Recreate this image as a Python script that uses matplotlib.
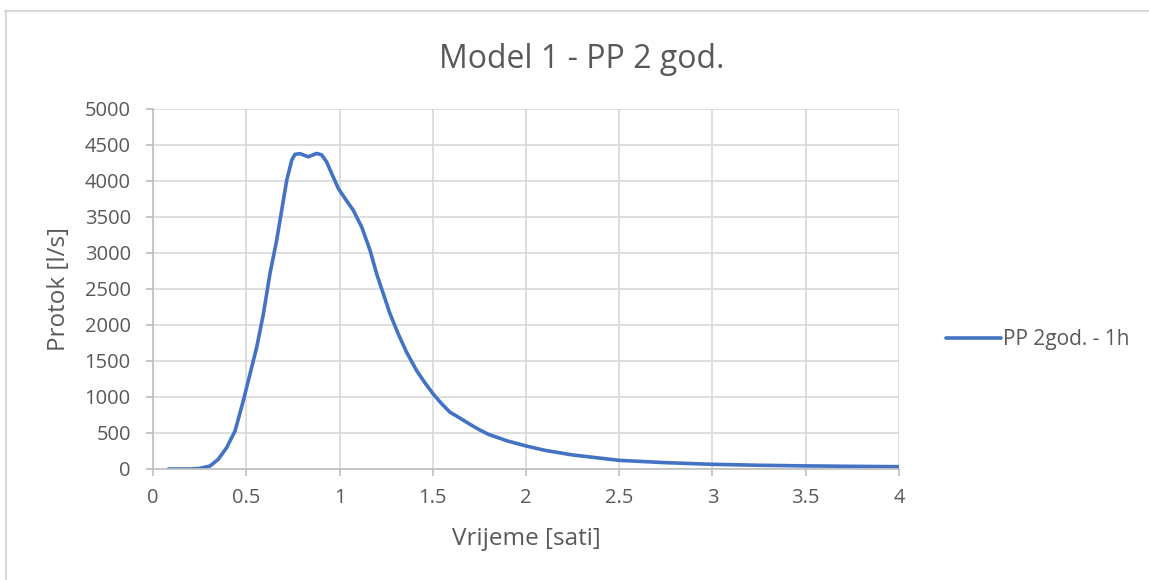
import matplotlib.pyplot as plt
from matplotlib.lines import Line2D

# values (time in hours, flow in l/s)
vrijeme = [0.083, 0.15, 0.2, 0.25, 0.306, 0.35, 0.395, 0.44, 0.484, 0.52,
           0.556, 0.592, 0.627, 0.663, 0.69, 0.717, 0.744, 0.761, 0.788, 0.833,
           0.877, 0.904, 0.931, 0.958, 0.994, 1.03, 1.074, 1.119, 1.164, 1.199,
           1.235, 1.271, 1.315, 1.36, 1.414, 1.46, 1.503, 1.55, 1.592, 1.65,
           1.7, 1.75, 1.8, 1.9, 2.0, 2.1, 2.25, 2.5, 2.75, 3.0, 3.25, 3.5, 3.75, 4.0]
protok = [0, 0, 0, 8, 42, 135, 297, 529, 947, 1319,
          1690, 2155, 2712, 3175, 3593, 4011, 4290, 4370, 4380, 4336,
          4383, 4364, 4266, 4104, 3895, 3756, 3593, 3361, 3036, 2712,
          2433, 2155, 1876, 1620, 1365, 1190, 1040, 900, 790, 700,
          620, 545, 480, 390, 320, 260, 195, 120, 88, 65, 52, 43, 37, 32]

x_ticks = [0, 0.5, 1, 1.5, 2, 2.5, 3, 3.5, 4]
x_labels = ['0', '0.5', '1', '1.5', '2', '2.5', '3', '3.5', '4']
y_ticks = list(range(0, 5001, 500))

plt.rcParams['font.family'] = ['Open Sans', 'DejaVu Sans']
text_col = '#595959'
grid_col = '#d9d9d9'

W, H = 1149, 580
fig = plt.figure(figsize=(W / 100, H / 100), dpi=100)
ax = fig.add_axes([153 / W, 1 - 469 / H, (899 - 153) / W, (469 - 109) / H])

ax.plot(vrijeme, protok, color='#4472c4', linewidth=2.6, label='PP 2god. - 1h',
        solid_joinstyle='round', solid_capstyle='round')

ax.set_xlim(0, 4)
ax.set_ylim(0, 5000)
ax.set_xticks(x_ticks)
ax.set_xticklabels(x_labels)
ax.set_yticks(y_ticks)
ax.grid(True, color=grid_col, linewidth=1.2)
ax.set_axisbelow(True)

for s in ['top', 'right']:
    ax.spines[s].set_visible(False)
for s in ['left', 'bottom']:
    ax.spines[s].set_color('#bfbfbf')
    ax.spines[s].set_linewidth(1.2)
ax.tick_params(axis='both', colors='#bfbfbf', labelcolor=text_col, labelsize=14.5,
               length=5, width=1.2)
ax.tick_params(axis='x', pad=9)
ax.tick_params(axis='y', pad=11)

fig.text(526 / W, 1 - 539 / H, 'Vrijeme [sati]', fontsize=17.5, color=text_col,
         ha='center', va='center')
fig.text(59 / W, 1 - 289 / H, 'Protok [l/s]', fontsize=17.5, color=text_col,
         ha='center', va='center', rotation=90)
fig.text(582 / W, 1 - 60 / H, 'Model 1 - PP 2 god.', fontsize=23,
         color=text_col, ha='center', va='center')

leg = ax.legend(loc='center left', bbox_to_anchor=(938 / W, 1 - 340 / H),
                bbox_transform=fig.transFigure, frameon=False, fontsize=15,
                handlelength=2.6, handletextpad=0.1, borderaxespad=0)
for t in leg.get_texts():
    t.set_color(text_col)

# outer chart border (cropped at right and bottom)
fig.add_artist(Line2D([5 / W, 1.0], [1 - 11 / H, 1 - 11 / H],
                      transform=fig.transFigure, color='#d9d9d9', linewidth=1.5))
fig.add_artist(Line2D([6 / W, 6 / W], [0, 1 - 11 / H],
                      transform=fig.transFigure, color='#d9d9d9', linewidth=1.5))

fig.savefig('out.png', dpi=100)
